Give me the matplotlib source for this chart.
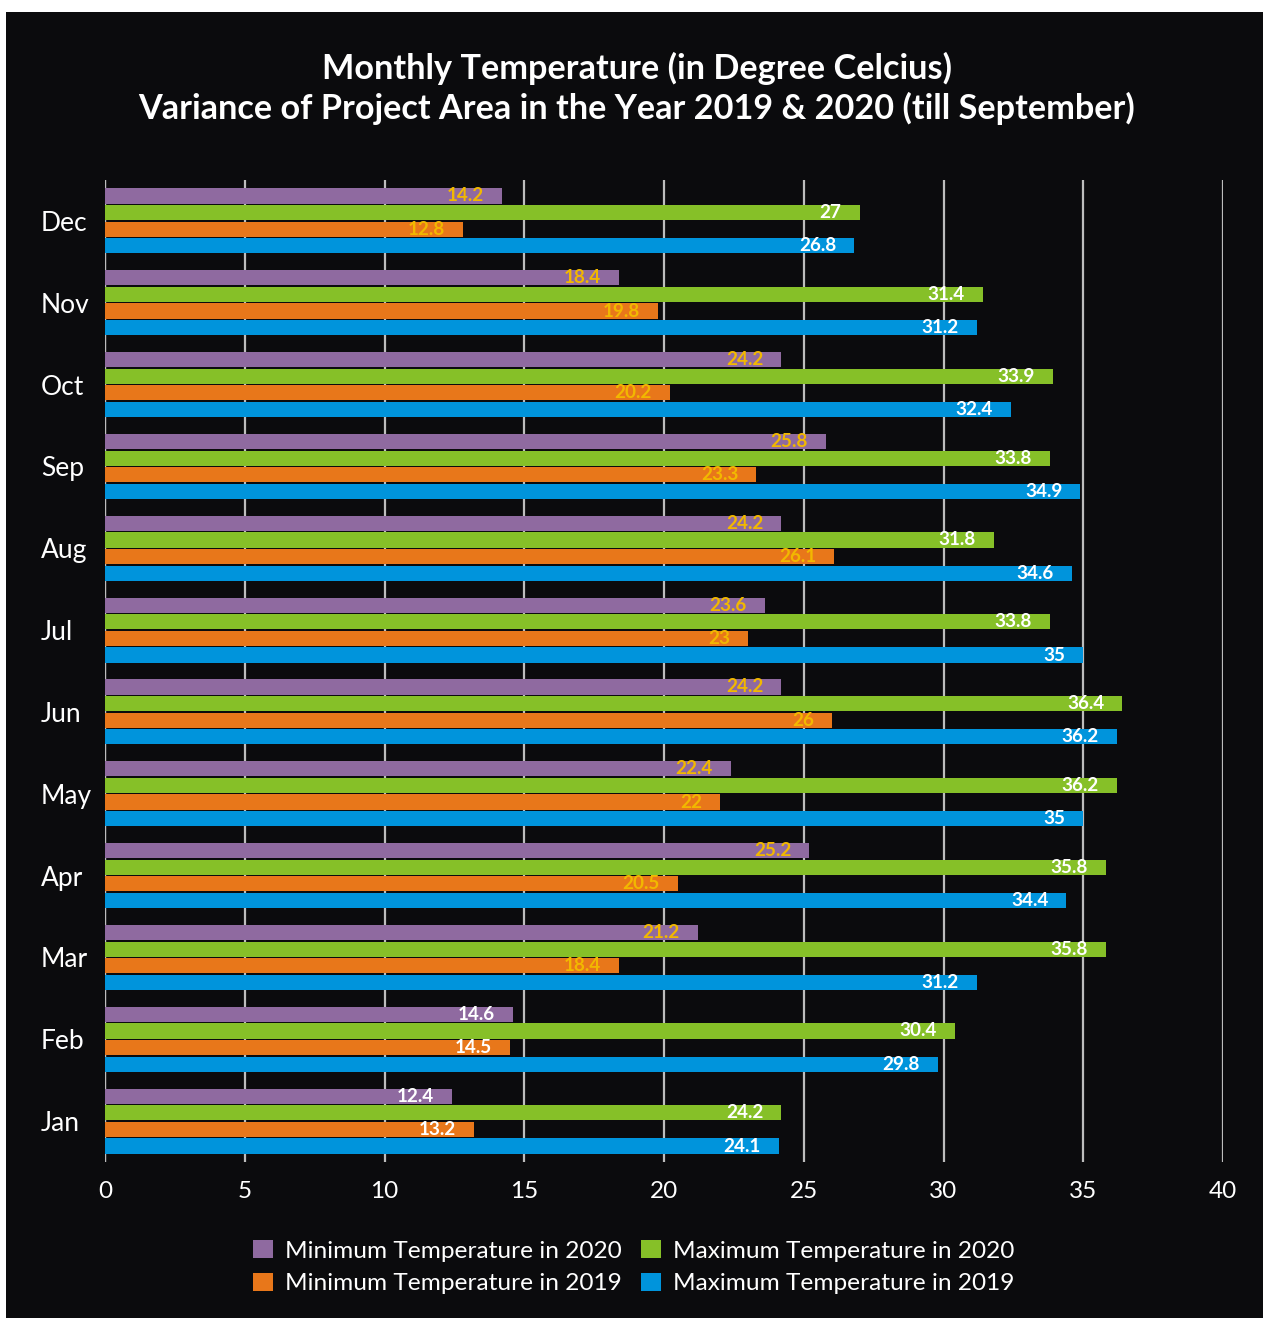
import numpy as np
import matplotlib
matplotlib.use("Agg")
import matplotlib.pyplot as plt
from matplotlib.patches import Rectangle

# data, bottom to top (Jan first)
months = ["Jan", "Feb", "Mar", "Apr", "May", "Jun", "Jul", "Aug", "Sep", "Oct", "Nov", "Dec"]
min_2020 = [12.4, 14.6, 21.2, 25.2, 22.4, 24.2, 23.6, 24.2, 25.8, 24.2, 18.4, 14.2]
max_2020 = [24.2, 30.4, 35.8, 35.8, 36.2, 36.4, 33.8, 31.8, 33.8, 33.9, 31.4, 27]
min_2019 = [13.2, 14.5, 18.4, 20.5, 22, 26, 23, 26.1, 23.3, 20.2, 19.8, 12.8]
max_2019 = [24.1, 29.8, 31.2, 34.4, 35, 36.2, 35, 34.6, 34.9, 32.4, 31.2, 26.8]
series_names = ["Minimum Temperature in 2020", "Maximum Temperature in 2020",
                "Minimum Temperature in 2019", "Maximum Temperature in 2019"]
xticks = [0, 5, 10, 15, 20, 25, 30, 35, 40]

BG = "#0b0b0d"
colors = ["#8f6aa0", "#86c028", "#e8771a", "#0094dc"]
GOLD = "#f2b800"

plt.rcParams["font.family"] = ["Lato", "DejaVu Sans"]

fig = plt.figure(figsize=(12.63, 13.18), dpi=100, facecolor="white")
# black panel with thin white margin at top/left
fig.patches.append(Rectangle((6 / 1263, 0), 1.0, 1 - 12 / 1318, transform=fig.transFigure,
                             facecolor=BG, edgecolor="none", zorder=-10))

ax = fig.add_axes([105 / 1263, 1 - 1162 / 1318, (1223 - 105) / 1263, (1162 - 180) / 1318])
ax.set_facecolor(BG)
ax.set_zorder(1)

y = np.arange(len(months))
step = 0.203
height = 0.185
offsets = [1.5 * step, 0.5 * step, -0.5 * step, -1.5 * step]
all_vals = [min_2020, max_2020, min_2019, max_2019]

for k, (vals, col, name, off) in enumerate(zip(all_vals, colors, series_names, offsets)):
    ax.barh(y + off, vals, height=height, color=col, label=name, zorder=3)
    for i, v in enumerate(vals):
        # min labels are gold except Jan/Feb
        if k in (0, 2) and i >= 2:
            tc = GOLD
        else:
            tc = "white"
        ax.annotate(f"{v:g}", (v, y[i] + off), xytext=(-13, 0), textcoords="offset points",
                    ha="right", va="center", color=tc, fontsize=13.6, fontweight="bold", zorder=4)

ax.set_xlim(0, 40)
ax.set_ylim(-0.5, 11.5)
ax.set_xticks(xticks)
ax.set_yticks(y)
ax.set_yticklabels(months, ha="left")
ax.tick_params(axis="both", length=0, colors="white")
ax.tick_params(axis="x", pad=14, labelsize=17.5)
ax.tick_params(axis="y", pad=46, labelsize=19)
ax.xaxis.grid(True, color="#bdbdbd", linewidth=1.6, zorder=1)
for s in ax.spines.values():
    s.set_visible(False)
ax.axvline(0, color="#bdbdbd", linewidth=1.6, zorder=2)

fig.text(0.504, 1 - 68 / 1318, "Monthly Temperature (in Degree Celcius)", ha="center", va="center",
         color="white", fontsize=24.7, fontweight="bold")
fig.text(0.504, 1 - 108 / 1318, "Variance of Project Area in the Year 2019 & 2020 (till September)",
         ha="center", va="center", color="white", fontsize=24.7, fontweight="bold")

h, l = ax.get_legend_handles_labels()
order = [0, 2, 1, 3]
leg = fig.legend([h[i] for i in order], [l[i] for i in order], ncol=2, loc="center",
                 bbox_to_anchor=(634 / 1263, 1 - 1267 / 1318), frameon=False, fontsize=17.6,
                 handlelength=0.8, handleheight=0.8, handletextpad=0.5, columnspacing=0.8,
                 labelspacing=0.45)
for t in leg.get_texts():
    t.set_color("white")

fig.savefig("out.png", dpi=100, facecolor=fig.get_facecolor())
